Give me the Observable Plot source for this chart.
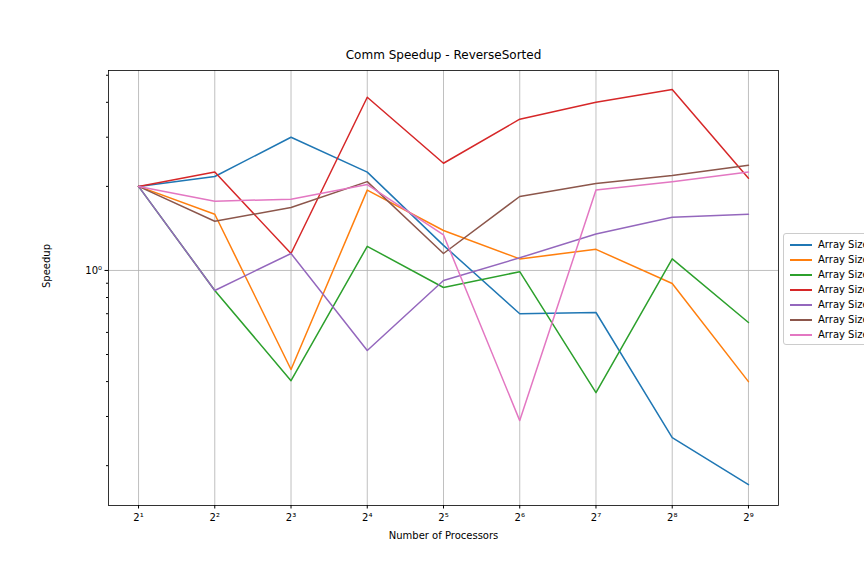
<!DOCTYPE html>
<html><head><meta charset="utf-8">
<script src="https://cdn.jsdelivr.net/npm/d3@7"></script>
<script src="https://cdn.jsdelivr.net/npm/@observablehq/plot@0.6"></script>
<style>
body{margin:0;width:864px;height:576px;overflow:hidden;background:#fff;font-family:"DejaVu Sans",sans-serif;position:relative}
#legend{position:absolute;left:783px;top:233px;width:100px;border:1px solid #ccc;border-radius:3px;background:#fff;padding:3px 0 2px 6px;font-size:10px}
#legend div{height:15px;line-height:15px;white-space:nowrap}
#legend span{display:inline-block;width:22px;height:2px;vertical-align:middle;margin-right:6px}
</style></head>
<body><div id="chart"></div><div id="legend"></div>
<script>
// Comm speedup, ReverseSorted input, log-log
const procs = [2, 4, 8, 16, 32, 64, 128, 256, 512];
const sizes = ["Array Size 65536", "Array Size 262144", "Array Size 1048576", "Array Size 4194304",
  "Array Size 16777216", "Array Size 67108864", "Array Size 268435456"];
const colors = ["#1f77b4", "#ff7f0e", "#2ca02c", "#d62728", "#9467bd", "#8c564b", "#e377c2"];
const speedup = [
  [2.00, 2.17, 3.00, 2.25, 1.23, 0.70, 0.707, 0.252, 0.171],
  [2.00, 1.59, 0.442, 1.94, 1.39, 1.10, 1.19, 0.898, 0.40],
  [2.00, 0.848, 0.403, 1.22, 0.869, 0.99, 0.365, 1.10, 0.651],
  [2.00, 2.25, 1.15, 4.17, 2.42, 3.48, 4.00, 4.45, 2.14],
  [2.00, 0.848, 1.15, 0.517, 0.921, 1.11, 1.35, 1.55, 1.59],
  [2.00, 1.50, 1.68, 2.08, 1.15, 1.84, 2.05, 2.19, 2.38],
  [2.00, 1.77, 1.80, 2.03, 1.34, 0.29, 1.94, 2.08, 2.25]
];
const minorY = [0.2, 0.3, 0.4, 0.5, 0.6, 0.7, 0.8, 0.9, 2, 3, 4, 5];

const rows = [];
speedup.forEach((s, i) => s.forEach((v, j) => rows.push({size: sizes[i], p: procs[j], v})));
const sup = {"0":"⁰","1":"¹","2":"²","3":"³","4":"⁴","5":"⁵","6":"⁶","7":"⁷","8":"⁸","9":"⁹"};

const plot = Plot.plot({
  width: 864, height: 576,
  marginTop: 70, marginBottom: 71, marginLeft: 108, marginRight: 86,
  style: {fontFamily: "DejaVu Sans, sans-serif", fontSize: "10px", color: "#000"},
  x: {type: "log", base: 2, domain: [2 ** 0.606, 2 ** 9.394]},
  y: {type: "log", domain: [0.144, 5.2]},
  color: {domain: sizes, range: colors},
  marks: [
    Plot.gridX(procs, {stroke: "#b0b0b0", strokeOpacity: 1, strokeWidth: 0.8}),
    Plot.gridY([1], {stroke: "#b0b0b0", strokeOpacity: 1, strokeWidth: 0.8}),
    Plot.axisX(procs, {tickSize: 3.5, tickPadding: 5, tickFormat: d => "2" + String(Math.log2(d)).split("").map(c => sup[c]).join(""), fontSize: 10, label: null}),
    Plot.axisY([1], {tickSize: 3.5, tickPadding: 3, tickFormat: () => "10⁰", label: null}),
    Plot.axisY(minorY, {tickSize: 2, tickFormat: () => "", label: null}),
    Plot.lineY(rows, {x: "p", y: "v", z: "size", stroke: "size", strokeWidth: 1.5}),
    Plot.frame({stroke: "#000", strokeWidth: 0.8}),
    Plot.text(["Comm Speedup - ReverseSorted"], {frameAnchor: "top", dy: -12, fontSize: 12, lineAnchor: "bottom"}),
    Plot.text(["Number of Processors"], {frameAnchor: "bottom", dy: 33, fontSize: 10}),
    Plot.text(["Speedup"], {frameAnchor: "left", dx: -62, rotate: -90, fontSize: 10})
  ]
});
document.getElementById("chart").appendChild(plot);

const legend = document.getElementById("legend");
sizes.forEach((s, i) => {
  const d = document.createElement("div");
  d.innerHTML = `<span style="background:${colors[i]}"></span>${s}`;
  legend.appendChild(d);
});
</script></body></html>
